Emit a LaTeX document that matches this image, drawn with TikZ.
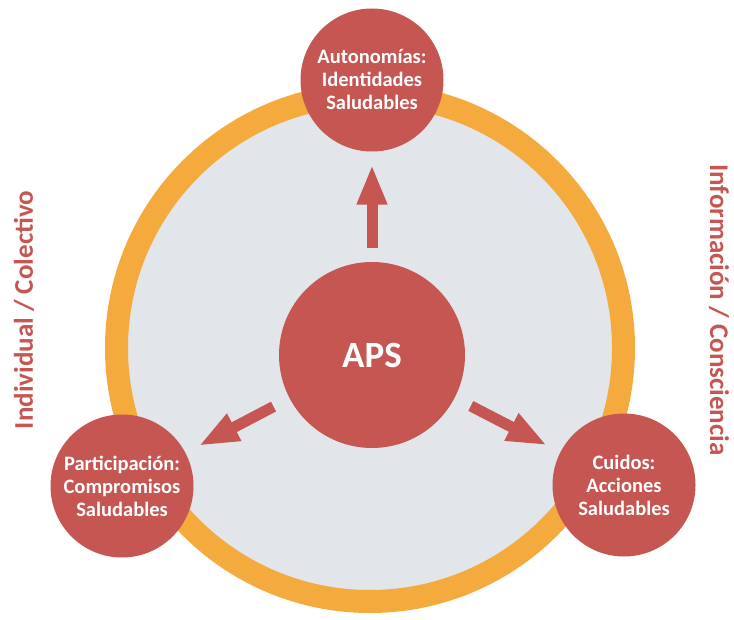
\documentclass[tikz,border=0pt]{standalone}
\usepackage{fontspec}
\setmainfont{Carlito}
\usetikzlibrary{arrows.meta}
\definecolor{apsred}{RGB}{197,86,82}
\definecolor{ringorange}{RGB}{244,170,60}
\definecolor{ringgray}{RGB}{226,229,233}
\begin{document}
\begin{tikzpicture}[x=1pt, y=-1pt, >={Triangle[length=40pt, width=28pt]},
    red node/.style={circle, fill=apsred, text=white, align=center, inner sep=0pt,
        minimum size=143pt, font=\bfseries\fontsize{20.5}{23}\selectfont},
    side label/.style={text=apsred, font=\bfseries\fontsize{27}{30}\selectfont}]
            \useasboundingbox (0,0) rectangle (734,620);

              \node[circle, fill=ringgray, draw=ringorange, line width=23pt, minimum size=507pt] (ring) at (370,348) {};

              \node[red node, minimum size=186pt, font=\bfseries\fontsize{37}{40}\selectfont] (aps) at (372,355) {APS};
              \node[red node] (auto) at (372,80) {Autonomías:\\Identidades\\Saludables};
              \node[red node] (part) at (122,486) {Participación:\\Compromisos\\Saludables};
              \node[red node] (cuid) at (624,485) {Cuidos:\\Acciones\\Saludables};

              \node[side label, rotate=90] (indiv) at (24,310) {Individual / Colectivo};
              \node[side label, rotate=-90] (info) at (719,310) {Información / Consciencia};

              \path[->, apsred, line width=11pt, shorten <=18pt, shorten >=15pt]
                (aps) edge[shorten <=14pt, shorten >=13pt] (auto)
                      edge (part)
                      edge (cuid);

            \end{tikzpicture}
\end{document}
